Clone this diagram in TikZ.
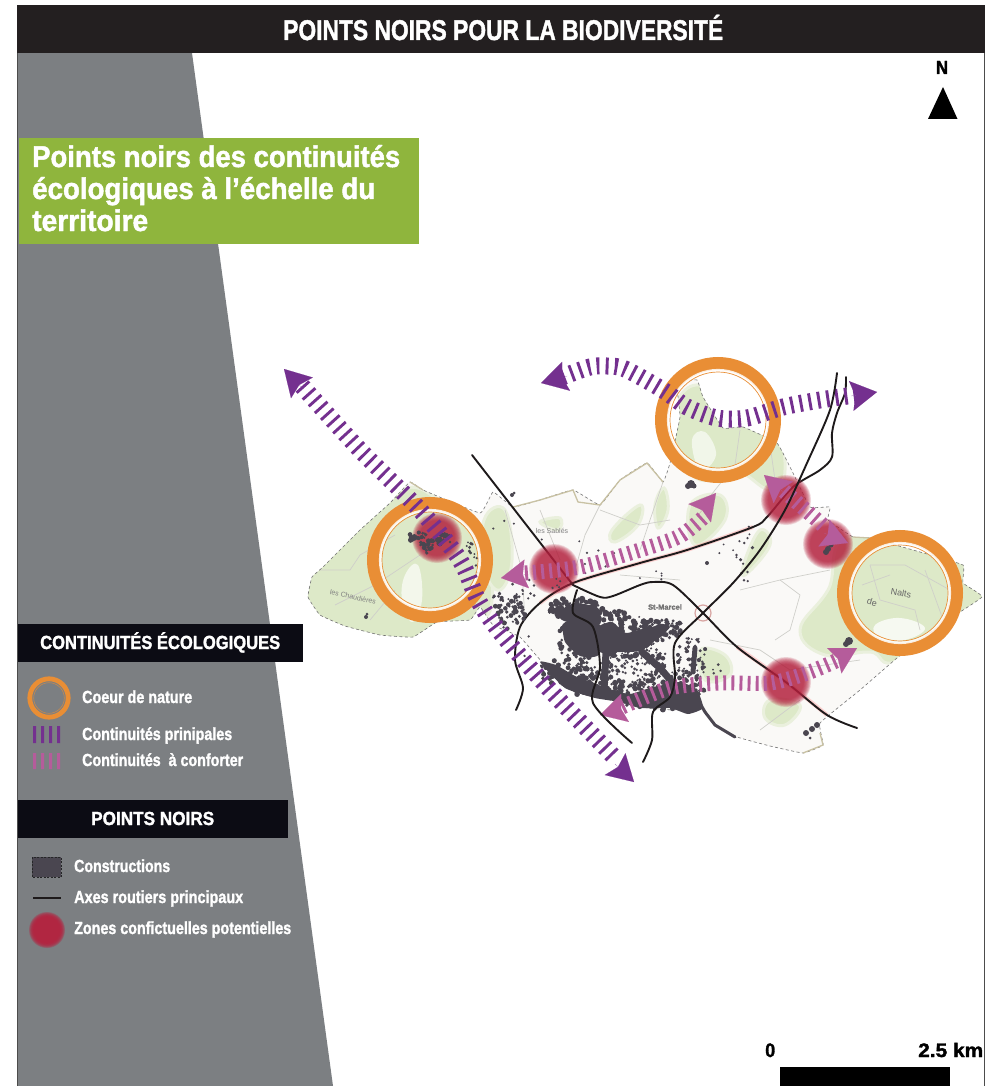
\documentclass[tikz,border=0pt]{standalone}
\usepackage{fontspec}
\setmainfont[BoldFeatures={FakeBold=1.6}]{Liberation Sans}
\usetikzlibrary{arrows.meta}
\definecolor{barblack}{HTML}{231F20}
\definecolor{legblack}{HTML}{0C0C14}
\definecolor{panelgrey}{HTML}{7C7F82}
\definecolor{titlegreen}{HTML}{8FB53D}
\definecolor{ringorange}{HTML}{E98E35}
\definecolor{contpurple}{HTML}{74308F}
\definecolor{contpink}{HTML}{B55C9B}
\definecolor{blobred}{HTML}{B5223F}
\definecolor{builddark}{HTML}{4A4650}
\definecolor{mapbase}{HTML}{FAF9F7}
\definecolor{mapgreen}{HTML}{DDE9C8}
\definecolor{maproad}{HTML}{CFCFCA}
\definecolor{maptan}{HTML}{C9C2A4}
\definecolor{roadblack}{HTML}{1E1A1B}
\newcommand\fw[2]{\resizebox{#1pt}{\height}{#2}}
\newcommand\softblob[3]{%
  \foreach \q in {0,...,9}{\fill[blobred,opacity=.17] (#1,#2) circle ({#3-\q*0.8});}}
\newcommand\ringmark[2]{%
  \draw[ringorange,line width=13pt] (#1,#2) circle (56.5);
  \draw[white,line width=3pt,opacity=.85] (#1,#2) circle (49.6);
  \draw[ringorange,line width=.7pt] (#1,#2) circle (48);}
% #1,#2 centre, #3,#4 radii, #5 count, #6 max dot radius
\newcommand\scatterb[6]{%
  \foreach \q in {1,...,#5}{%
    \pgfmathsetmacro\qa{rnd*360}\pgfmathsetmacro\qr{sqrt(rnd)}%
    \pgfmathsetmacro\qx{#1+#3*\qr*cos(\qa)}\pgfmathsetmacro\qy{#2+#4*\qr*sin(\qa)}%
    \pgfmathsetmacro\qs{1+rnd*(#6-1)}%
    \fill[builddark] (\qx,\qy) circle (\qs);}}
\tikzset{
  x=1pt,y=-1pt,
  banner/.style={fill=legblack,draw=none},
  bold text/.style={text=white,anchor=base west,inner sep=0pt},
  hatchmain/.style={contpurple,line width=17pt,dash pattern=on 2.9pt off 6.2pt},
  hatchsec/.style={contpink,line width=15pt,dash pattern=on 2.9pt off 5.2pt},
  headmain/.style={contpurple,line width=.1pt,-{Stealth[length=26pt,width=30pt,inset=4pt]}},
  headsec/.style={contpink,line width=.1pt,-{Stealth[length=26pt,width=29pt,inset=4pt]}},
  road/.style={roadblack,line width=1.9pt,line cap=round,line join=round},
  roadglow/.style={red!55!white,line width=4pt,opacity=.3},
  mapline/.style={maproad,line width=.7pt},
  softgreen/.style={fill=mapgreen,draw=mapgreen!55!mapbase,line width=3pt},
  maplabel/.style={text=black!50,font=\fontsize{7}{8}\selectfont},
  townstrip/.style={builddark,line cap=round,line join=round},
}
\def\territory{plot[smooth cycle,tension=.18] coordinates{
 (312,577)(308,597)(320,615)(345,626)(380,635)(413,637)(437,622)(470,620)(480,607)(493,625)(520,637)(547,667)(600,697)(640,707)(673,710)(703,708)(713,723)(737,737)(770,746)(803,753)(823,745)(820,723)(860,690)(897,658)(940,625)(982,597)(963,583)(963,565)(920,552)(870,538)(853,537)(828,520)(830,507)(810,507)(793,473)(777,443)(743,427)(723,428)(703,397)(697,380)(677,383)(680,417)(670,463)(663,482)(647,463)(620,480)(600,505)(573,490)(540,500)(513,507)(493,492)(480,513)(423,490)(410,482)(390,503)(360,530)(323,567)}}
\begin{document}
\begin{tikzpicture}
\useasboundingbox (0,0) rectangle (998,1086);
\fill[white] (0,0) rectangle (998,1086);
% panel
\fill[panelgrey] (18,53) -- (192,53) -- (333,1086) -- (18,1086) -- cycle;
\draw[black!70,line width=1pt] (17.5,53) -- (17.5,1086);
\draw[black!70,line width=1pt] (984.5,53) -- (984.5,1086);
\fill[barblack] (17,5) rectangle (985,53);
\node[bold text,font=\bfseries\fontsize{28.5}{28}\selectfont] (title) at (283,40) {\fw{440}{POINTS NOIRS POUR LA BIODIVERSITÉ}};
\fill[titlegreen] (19,138) rectangle (419,244);
\node[bold text,font=\bfseries\fontsize{30}{29}\selectfont] (sub1) at (32,167) {\fw{368}{Points noirs des continuités}};
\node[bold text,font=\bfseries\fontsize{30}{29}\selectfont] (sub2) at (32,199) {\fw{343}{écologiques à l’échelle du}};
\node[bold text,font=\bfseries\fontsize{30}{29}\selectfont] (sub3) at (32,231) {\fw{116}{territoire}};
% north
\node[anchor=base,inner sep=0pt,font=\bfseries\fontsize{19}{19}\selectfont] (north) at (942,74) {\fw{12}{N}};
\fill[black] (943,87) -- (957.5,119) -- (928,119) -- cycle;
% scale
\node[anchor=base west,inner sep=0pt,font=\bfseries\fontsize{19.5}{20}\selectfont] (scale0) at (765,1057) {\fw{10}{0}};
\node[anchor=base west,inner sep=0pt,font=\bfseries\fontsize{19.5}{20}\selectfont] (scale1) at (918,1057) {\fw{65}{2.5 km}};
\fill[black] (780,1067) rectangle (950,1086);
% map
\begin{scope}
\clip \territory;
\fill[mapbase] (300,370) rectangle (990,760);
\foreach \pts in {
 {(300,600)(340,540)(400,490)(440,500)(480,530)(492,600)(470,625)(400,650)(330,640)},
 {(670,420)(700,385)(770,430)(785,470)(770,490)(735,470)(700,480)(675,450)},
 {(855,535)(990,570)(990,600)(900,660)(870,652)(825,655)(800,630)(828,590)},
 {(745,560)(760,530)(770,545)(745,575)},
 {(690,505)(720,495)(725,520)(695,545)},
 {(484,520)(505,510)(512,560)(500,590)(485,570)},
 {(655,505)(664,488)(668,510)(658,528)},
 {(612,530)(640,505)(638,525)(615,542)},
 {(700,650)(725,655)(730,675)(705,680)},
 {(770,700)(800,705)(785,725)(765,718)},
 {(540,522)(560,518)(558,530)}}{
   \path[softgreen] plot[smooth cycle,tension=.7] coordinates \pts;}
\fill[white,opacity=.75] plot[smooth cycle,tension=.7] coordinates {(875,625)(900,618)(925,628)(905,640)(880,638)};
\fill[white,opacity=.65] plot[smooth cycle,tension=.7] coordinates {(405,575)(418,565)(422,600)(412,622)(402,600)};
\fill[white,opacity=.6] plot[smooth cycle,tension=.7] coordinates {(692,440)(705,432)(716,455)(700,470)};
\draw[mapline] (335,605) -- (375,585) -- (420,555);
\draw[mapline] (370,620) -- (395,590);
\draw[mapline] (320,570) -- (350,570) -- (360,555) -- (395,535);
\draw[mapline] (505,510) -- (522,570) -- (525,620);
\draw[mapline] (540,510) -- (560,560);
\draw[mapline] (600,505) -- (585,535) -- (575,570);
\draw[mapline] (600,510) -- (640,525) -- (670,520);
\draw[mapline] (663,482) -- (650,520) -- (640,550);
\draw[mapline] (740,430) -- (735,465) -- (715,490) -- (700,510);
\draw[mapline] (770,445) -- (775,480);
\draw[mapline] (740,590) -- (780,580) -- (830,570);
\draw[mapline] (780,580) -- (800,595) -- (790,630) -- (775,640);
\draw[mapline] (870,565) -- (905,565) -- (950,590);
\draw[mapline] (870,565) -- (880,600) -- (915,610) -- (920,630);
\draw[mapline] (862,585) -- (890,575);
\draw[mapline] (925,570) -- (945,625);
\draw[mapline] (710,640) -- (760,650) -- (790,670) -- (860,660);
\draw[mapline] (760,730) -- (800,700);
\draw[mapline] (620,575) -- (680,580);
\draw[red!20!maproad,line width=1.2pt] (703,613) circle (8);
\end{scope}
\draw[black!55,line width=.6pt,dash pattern=on 3pt off 2.5pt] \territory;
\draw[maptan,line width=1.3pt] (513,507) -- (540,500) -- (573,490) -- (578,502) -- (600,505) -- (620,480) -- (647,463) -- (663,482);
\draw[maptan,line width=1.3pt] (410,482) -- (423,490);
\draw[maptan,line width=1.3pt] (853,537) -- (870,538);
\draw[maptan,line width=1.3pt] (803,753) -- (823,745) -- (820,733);
% map labels
\node[maplabel,rotate=-12] (lab1) at (353,597) {les Chaudières};
\node[maplabel] (lab2) at (552,531) {les Sablés};
\node[text=black!55,font=\bfseries\fontsize{7.5}{8}\selectfont] (lab3) at (665,607) {St-Marcel};
\node[text=black!60,font=\fontsize{9}{10}\selectfont,rotate=-18] (lab4) at (872,602) {de};
\node[text=black!60,font=\fontsize{9}{10}\selectfont,rotate=-10] (lab5) at (901,593) {Nalts};
% glow beneath roads
\draw[roadglow] plot[smooth] coordinates {(540,603)(573,583)(640,563)(687,550)(753,527)};
\draw[roadglow] plot[smooth] coordinates {(737,647)(787,683)(827,715)};
% roads
\draw[road] (472,455) -- (573,585);
\draw[road] plot[smooth,tension=.5] coordinates {(516,710)(523,688)(515,660)(520,627)(540,603)(573,583)(640,563)(687,550)(753,527)(767,517)(793,487)(820,470)(832,457)(832,433)(837,413)(845,393)(846,377)};
\draw[road] plot[smooth,tension=.5] coordinates {(573,585)(600,597)(613,596)(640,585)(653,582)(673,585)(703,613)(737,647)(787,683)(827,715)(857,728)};
% conflict zones
\softblob{437}{538}{25}
\softblob{554}{569}{25}
\softblob{786}{500}{25}
\softblob{828}{544}{25}
\softblob{786}{682}{25}
% buildings
\pgfmathsetseed{4217}
\fill[builddark] plot[smooth cycle,tension=.35] coordinates {(563,624)(576,619)(596,623)(598,655)(580,656)(565,642)};
\fill[builddark] plot[smooth cycle,tension=.35] coordinates {(597,628)(612,622)(626,633)(648,628)(655,640)(640,651)(620,652)(600,652)};
\fill[builddark] plot[smooth cycle,tension=.35] coordinates {(640,634)(660,624)(670,627)(655,641)};
\fill[builddark] plot[smooth cycle,tension=.35] coordinates {(558,612)(575,603)(598,608)(600,624)(576,624)(562,620)};
\fill[builddark] plot[smooth cycle,tension=.3] coordinates {(540,662)(556,665)(575,676)(596,684)(612,690)(630,694)(650,688)(680,682)(697,690)(703,708)(688,714)(670,708)(640,708)(620,702)(595,698)(565,688)};
\draw[townstrip,line width=7pt] (606,652) -- (604,690);
\draw[townstrip,line width=7pt] (642,652) -- (660,668) -- (672,682);
\draw[townstrip,line width=5pt] (695,648) -- (693,672);
\draw[townstrip,line width=3pt] (697,698) -- (705,712) -- (715,725) -- (735,737);
\scatterb{578}{610}{30}{14}{90}{3.2}
\scatterb{580}{640}{22}{24}{90}{3}
\scatterb{622}{634}{32}{24}{150}{3.2}
\scatterb{655}{630}{26}{11}{80}{2.8}
\scatterb{673}{625}{9}{6}{12}{2.2}
\scatterb{650}{665}{18}{22}{70}{2.4}
\scatterb{615}{668}{14}{20}{35}{2.2}
\scatterb{565}{672}{28}{13}{80}{2.8}
\scatterb{595}{685}{30}{13}{70}{3}
\scatterb{655}{695}{44}{15}{120}{3}
\scatterb{682}{688}{24}{18}{65}{2.6}
\scatterb{692}{660}{16}{24}{60}{2.2}
\scatterb{715}{672}{10}{8}{4}{1.6}
\scatterb{625}{668}{35}{16}{30}{1.5}
\scatterb{510}{612}{16}{17}{60}{2.6}
\scatterb{497}{600}{5}{9}{8}{2}
\scatterb{525}{590}{15}{12}{10}{1.6}
\scatterb{525}{650}{15}{14}{3}{1.4}
\scatterb{560}{582}{40}{7}{6}{1.4}
% rural dots
\scatterb{520}{525}{30}{30}{4}{1.3}
\scatterb{595}{555}{25}{25}{8}{1.3}
\scatterb{645}{575}{25}{6}{5}{1.2}
\scatterb{745}{555}{9}{34}{14}{1.8}
\scatterb{720}{560}{20}{20}{3}{1.2}
% clump in the western ring
\scatterb{418}{537}{9}{6}{24}{2.6}
\scatterb{430}{543}{12}{6}{24}{2.6}
\scatterb{444}{540}{9}{7}{22}{2.6}
\scatterb{426}{552}{2}{2}{3}{1.8}
\scatterb{470}{548}{4}{8}{8}{1.8}
\scatterb{478}{568}{8}{16}{9}{1.4}
\foreach \a/\b/\c in {691/484/4,688/486/3,694/486/2.5,849/641/4,846/644/3,812/729/3,806/733/3,817/725/3,810/738/1.5,828/549/3,826/552/3,831/545/2.5,707/563/2,366/617/2,367/614/1.5,512/495/2,514/493/1.5}{\fill[builddark] (\a,\b) circle (\c);}
% rings
\ringmark{430}{560}
\ringmark{718}{420}
\ringmark{900}{593}
% continuities
\draw[hatchmain] plot[smooth,tension=.5] coordinates {(562,377)(590,367)(607,366)(625,369)(663,390)(687,407)(717,418)(747,418)(783,407)(820,400)(855,395)};
\draw[headmain] (567,376) -- (541,383);
\draw[headmain] (851,396) -- (877,392);
\draw[hatchmain] plot[smooth,tension=.5] coordinates {(302,386)(360,450)(420,510)(460,560)(478,600)(500,632)(550,690)(615,758)};
\draw[headmain] (303,389) -- (284,369);
\draw[headmain] (615,764) -- (634,782);
\draw[hatchsec] plot[smooth,tension=.5] coordinates {(525,573)(580,567)(640,550)(680,536)(706,515)};
\draw[headsec] (526,574) -- (501,578);
\draw[headsec] (699,514) -- (716,493);
\draw[hatchsec] (784,491) -- (825,527);
\draw[headsec] (784,493) -- (764,475);
\draw[headsec] (824,533) -- (848,543);
\draw[hatchsec] plot[smooth,tension=.5] coordinates {(622,707)(670,688)(720,683)(770,683)(807,673)(838,660)};
\draw[headsec] (625,708) -- (600,715);
\draw[headsec] (834,661) -- (857,648);
% roads that cross over the continuities
\draw[road] plot[smooth,tension=.5] coordinates {(577,590)(573,613)(593,627)(600,667)(593,703)(632,743)};
\draw[road] plot[smooth,tension=.5] coordinates {(643,762)(652,740)(653,712)(670,697)(675,677)(675,643)(703,613)(733,583)(760,550)(785,510)(807,463)(830,410)(837,373)};
% legend
\fill[banner] (18,624) rectangle (303,662);
\node[bold text,font=\bfseries\fontsize{19}{19}\selectfont] (h1) at (40,649) {\fw{240}{CONTINUITÉS ÉCOLOGIQUES}};
\draw[ringorange,line width=4.8pt] (49,698) circle (19.2);
\draw[ringorange,line width=.5pt,opacity=.8] (49,698) circle (15.3);
\fill[contpurple] (33,726) rectangle (36,743) (41,726) rectangle (44,743) (49,726) rectangle (52,743) (57,726) rectangle (60,743);
\fill[contpink] (33,753) rectangle (36,769) (41,753) rectangle (44,769) (49,753) rectangle (52,769) (57,753) rectangle (60,769);
\node[bold text,font=\bfseries\fontsize{17.5}{17}\selectfont] (l1) at (82,703) {\fw{110}{Coeur de nature}};
\node[bold text,font=\bfseries\fontsize{17.5}{17}\selectfont] (l2) at (82,740) {\fw{150}{Continuités prinipales}};
\node[bold text,font=\bfseries\fontsize{17.5}{17}\selectfont] (l3) at (82,766) {\fw{161}{Continuités\ \ à conforter}};
\fill[banner] (18,800) rectangle (288,838);
\node[bold text,font=\bfseries\fontsize{19}{19}\selectfont] (h2) at (91,825) {\fw{123}{POINTS NOIRS}};
\fill[builddark] (32,857) rectangle (61,877);
\draw[black!70!panelgrey,dash pattern=on 2pt off 1.5pt,line width=.6pt] (32,857) rectangle (61,877);
\draw[roadblack,line width=1.5pt] (33,898) -- (61,898);
\foreach \q in {0,...,7}{\fill[blobred,opacity=.3] (47,930) circle ({18-\q*0.7});}
\node[bold text,font=\bfseries\fontsize{17.5}{17}\selectfont] (l4) at (74,872) {\fw{96}{Constructions}};
\node[bold text,font=\bfseries\fontsize{17.5}{17}\selectfont] (l5) at (74,903) {\fw{169}{Axes routiers principaux}};
\node[bold text,font=\bfseries\fontsize{17.5}{17}\selectfont] (l6) at (74,934) {\fw{217}{Zones confictuelles potentielles}};
\end{tikzpicture}
\end{document}
